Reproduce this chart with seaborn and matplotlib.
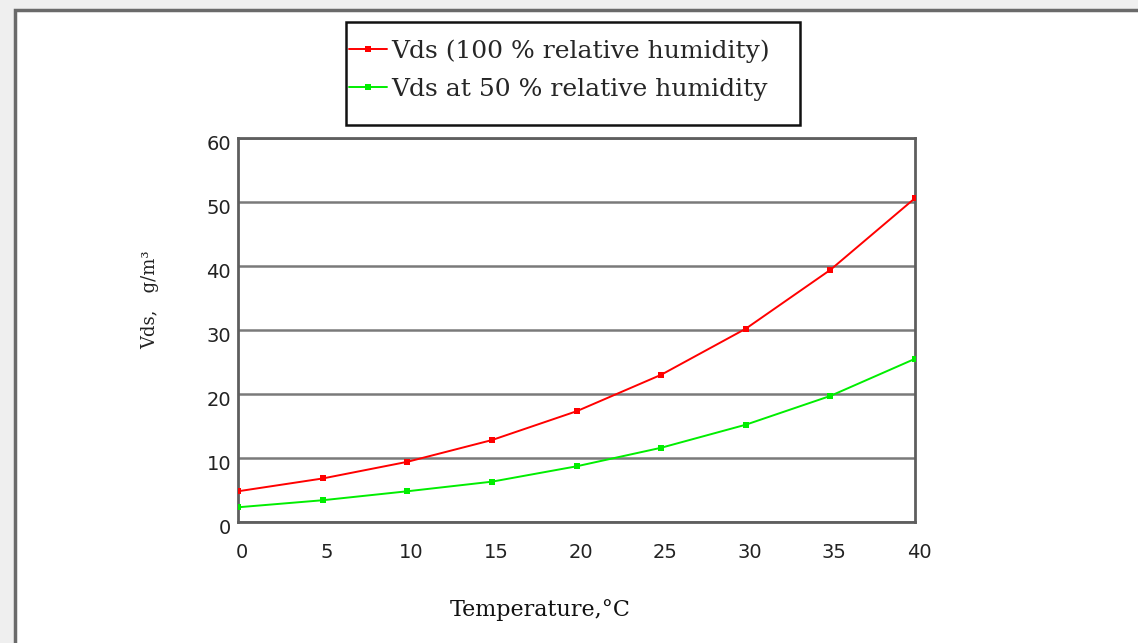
import matplotlib
matplotlib.use('Agg')
import matplotlib.pyplot as plt
import seaborn as sns
from matplotlib.patches import Rectangle
from matplotlib.transforms import ScaledTranslation

# data
temperature = [0, 5, 10, 15, 20, 25, 30, 35, 40]
vds_100 = [4.8, 6.8, 9.4, 12.8, 17.3, 23.0, 30.2, 39.4, 50.6]
vds_50 = [2.3, 3.4, 4.8, 6.3, 8.7, 11.6, 15.2, 19.7, 25.5]
label_100 = 'Vds (100 % relative humidity)'
label_50 = 'Vds at 50 % relative humidity'
x_ticks = [0, 5, 10, 15, 20, 25, 30, 35, 40]
y_ticks = [0, 10, 20, 30, 40, 50, 60]

sns.set_style('white')
plt.rcParams['font.family'] = ['DejaVu Sans']

W, H = 1138, 643
fig = plt.figure(figsize=(W / 100, H / 100), dpi=100, facecolor='#efefef')

# white panel with gray border, behind everything
fig.patches.append(Rectangle((15 / W, -0.05), 1.1, 1 - 10 / H + 0.05, transform=fig.transFigure,
                             facecolor='white', edgecolor='#6a6a6a', lw=2.5, zorder=-10))

ax = fig.add_axes([238 / W, 1 - 522 / H, (915 - 238) / W, (522 - 138) / H])
ax.set_facecolor('white')

sns.lineplot(x=temperature, y=vds_100, ax=ax, color='#ff0000', marker='s', markersize=5,
             markeredgewidth=0, lw=1.4, label=label_100, zorder=3)
sns.lineplot(x=temperature, y=vds_50, ax=ax, color='#00ee00', marker='s', markersize=5,
             markeredgewidth=0, lw=1.4, label=label_50, zorder=3)

ax.set_xlim(0, 40)
ax.set_ylim(0, 60)
ax.set_xticks(x_ticks)
ax.set_yticks(y_ticks)
ax.set_xticklabels([str(t) for t in x_ticks], fontsize=14, color='#222222')
ax.set_yticklabels([str(t) for t in y_ticks], fontsize=14, color='#222222')
ax.tick_params(axis='x', direction='in', length=5, width=1.5, color='#333333', pad=15)
ax.tick_params(axis='y', length=0, pad=5)
# labels in the original sit a little right / below their ticks
for lbl in ax.get_xticklabels():
    lbl.set_transform(lbl.get_transform() + ScaledTranslation(4 / 100, 0, fig.dpi_scale_trans))
for lbl in ax.get_yticklabels():
    lbl.set_transform(lbl.get_transform() + ScaledTranslation(0, -5 / 100, fig.dpi_scale_trans))

ax.yaxis.grid(True, color='#7a7a7a', lw=1.8)
ax.xaxis.grid(False)
for s in ax.spines.values():
    s.set_visible(True)
    s.set_color('#5e5e5e')
    s.set_linewidth(2)

ax.set_xlabel('')
ax.set_ylabel('')
fig.text(540 / W, 1 - 610 / H, 'Temperature,°C', family='DejaVu Serif', fontsize=16,
         ha='center', va='center', color='#111111')
fig.text(150 / W, 1 - 300 / H, 'Vds,   g/m³', family='DejaVu Serif', fontsize=13,
         rotation=90, ha='center', va='center', color='#222222')

# legend box
fig.patches.append(Rectangle((346 / W, 1 - 125 / H), (800 - 346) / W, (125 - 22) / H,
                             transform=fig.transFigure, facecolor='white',
                             edgecolor='#111111', lw=1.8, zorder=1))
handles, labels = ax.get_legend_handles_labels()
ax.get_legend().remove()
leg = fig.legend(handles, labels, loc='upper left',
                 bbox_to_anchor=(349 / W, 1 - 39 / H), frameon=False, borderpad=0,
                 prop={'family': 'DejaVu Serif', 'size': 18}, handlelength=1.5,
                 handletextpad=0.2, labelspacing=0.6, borderaxespad=0)
leg.set_zorder(2)

fig.savefig('out.png', dpi=100, facecolor=fig.get_facecolor())
